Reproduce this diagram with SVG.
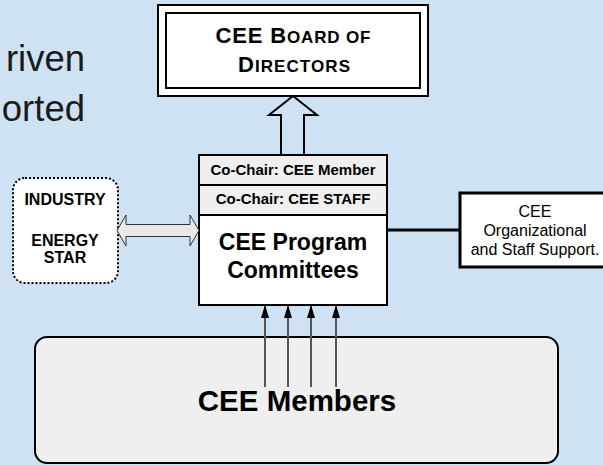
<svg xmlns="http://www.w3.org/2000/svg" width="603" height="465" viewBox="0 0 603 465">
<style>
text{font-family:"Liberation Sans",Arial,sans-serif;}
.b{font-weight:bold;fill:#000;}
.box{stroke:#000;stroke-width:2;}
.ar{stroke:#555;stroke-width:2;fill:none;marker-end:url(#ah);}
</style>
<defs>
<marker id="ah" markerWidth="13" markerHeight="8" refX="12" refY="4" orient="auto" markerUnits="userSpaceOnUse" viewBox="0 0 13 8">
<path d="M0,0 L13,4 L0,8 Z" fill="#000"/>
</marker>
</defs>
<rect width="603" height="465" fill="#cfe2f3"/>
<g id="title-fragments">
<text x="85" y="71" text-anchor="end" font-size="36.5" fill="#1a1a1a">riven</text>
<text x="85" y="121" text-anchor="end" font-size="36.5" fill="#1a1a1a">orted</text>
</g>
<g id="board">
<rect x="158" y="5" width="270" height="91" fill="#fff" class="box"/>
<rect x="166" y="13" width="254" height="75" fill="#fff" class="box"/>
<text class="b" x="293" y="43" text-anchor="middle" textLength="155" lengthAdjust="spacing"><tspan font-size="22">CEE B</tspan><tspan font-size="17">OARD OF</tspan></text>
<text class="b" x="294" y="72" text-anchor="middle" textLength="112" lengthAdjust="spacing"><tspan font-size="22">D</tspan><tspan font-size="17">IRECTORS</tspan></text>
</g>
<g id="industry">
<rect x="13" y="178" width="105" height="105" rx="12" fill="#fff" stroke="#000" stroke-width="2" stroke-dasharray="2,2"/>
<text class="b" x="65" y="205" text-anchor="middle" font-size="16">INDUSTRY</text>
<text class="b" x="65" y="246" text-anchor="middle" font-size="16">ENERGY</text>
<text class="b" x="65" y="263" text-anchor="middle" font-size="16">STAR</text>
</g>
<g id="committees">
<rect x="199" y="155" width="188" height="30" fill="#efefef" class="box"/>
<rect x="199" y="185" width="188" height="30" fill="#efefef" class="box"/>
<rect x="199" y="215" width="188" height="90" fill="#fff" class="box"/>
<text class="b" x="293" y="175" text-anchor="middle" font-size="15">Co-Chair: CEE Member</text>
<text class="b" x="293" y="204" text-anchor="middle" font-size="15">Co-Chair: CEE STAFF</text>
<text class="b" x="293" y="250" text-anchor="middle" font-size="23">CEE Program</text>
<text class="b" x="293" y="278" text-anchor="middle" font-size="23">Committees</text>
</g>
<g id="support">
<rect x="460" y="193" width="150" height="74" fill="#fff" stroke="#000" stroke-width="3"/>
<text x="535" y="217" text-anchor="middle" font-size="16" fill="#000">CEE</text>
<text x="535" y="236" text-anchor="middle" font-size="16" fill="#000">Organizational</text>
<text x="535" y="255" text-anchor="middle" font-size="16" fill="#000">and Staff Support.</text>
</g>
<g id="members">
<rect x="35" y="337" width="523" height="126" rx="12" fill="#efefef" class="box"/>
<text class="b" x="297" y="411" text-anchor="middle" font-size="29.5">CEE Members</text>
</g>
<g id="connectors">
<path d="M293,96 L317,115 L304,115 L304,155 L281,155 L281,115 L269,115 Z" fill="none" stroke="#000" stroke-width="2" stroke-linejoin="miter"/>
<path d="M117,230.5 L126,215 L126,224.5 L190,224.5 L190,215 L199,230.5 L190,246 L190,236.5 L126,236.5 L126,246 Z" fill="#e8e8e8" stroke="#333" stroke-width="1"/>
<line x1="387" y1="230" x2="460" y2="230" stroke="#000" stroke-width="3"/>
<line class="ar" x1="265" y1="387" x2="265" y2="306"/>
<line class="ar" x1="288" y1="387" x2="288" y2="306"/>
<line class="ar" x1="311" y1="387" x2="311" y2="306"/>
<line class="ar" x1="336" y1="387" x2="336" y2="306"/>
</g>
</svg>
